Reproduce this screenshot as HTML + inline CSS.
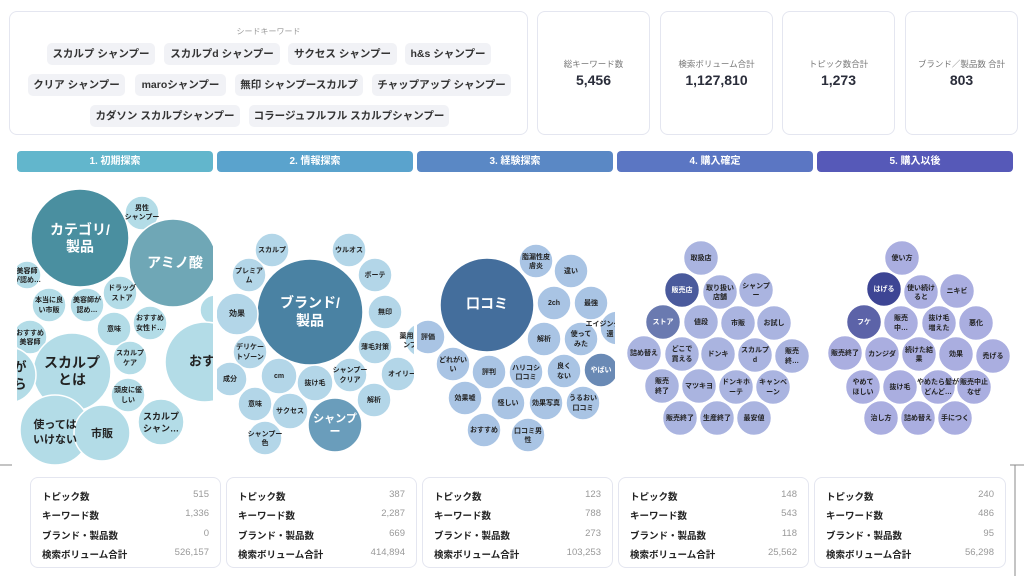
<!DOCTYPE html>
<html><head><meta charset="utf-8"><style>
*{margin:0;padding:0;box-sizing:border-box}
body{width:1024px;height:576px;background:#fff;font-family:"Liberation Sans","Noto Sans CJK JP",sans-serif;position:relative;overflow:hidden;color:#2a2d3a}
.card{position:absolute;border:1px solid #e4e6f0;border-radius:8px;background:#fff}
.seedt{position:absolute;left:0;width:100%;top:14px;text-align:center;font-size:8px;color:#999}
.chip{position:absolute;height:22px;line-height:22px;background:#f1f2f6;border-radius:5px;font-size:10.5px;font-weight:bold;text-align:center;color:#333}
.st .l{position:absolute;top:46px;width:100%;text-align:center;font-size:8.5px;color:#777}
.st .v{position:absolute;top:60px;width:100%;text-align:center;font-size:14px;font-weight:bold;color:#2a2d3a}
.bar{position:absolute;top:151px;height:21px;border-radius:4px;color:#fff;font-size:10px;font-weight:bold;text-align:center;line-height:21px}
.bc .r{position:absolute;left:11px;right:11px;font-size:9.5px;font-weight:bold;color:#222}
.bc .r span{float:right;font-weight:normal;color:#999}
svg text{font-family:"Liberation Sans","Noto Sans CJK JP",sans-serif;font-weight:bold;text-anchor:middle;dominant-baseline:middle}
</style></head><body>
<div class="card" style="left:9px;top:11px;width:519px;height:124px">
<div class="seedt">シードキーワード</div>
<div class="chip" style="left:37px;top:31px;width:108px">スカルプ シャンプー</div>
<div class="chip" style="left:154px;top:31px;width:116px">スカルプd シャンプー</div>
<div class="chip" style="left:278px;top:31px;width:109px">サクセス シャンプー</div>
<div class="chip" style="left:395px;top:31px;width:86px">h&amp;s シャンプー</div>
<div class="chip" style="left:18px;top:62px;width:97px">クリア シャンプー</div>
<div class="chip" style="left:125px;top:62px;width:91px">maroシャンプー</div>
<div class="chip" style="left:225px;top:62px;width:128px">無印 シャンプースカルプ</div>
<div class="chip" style="left:362px;top:62px;width:139px">チャップアップ シャンプー</div>
<div class="chip" style="left:80px;top:93px;width:150px">カダソン スカルプシャンプー</div>
<div class="chip" style="left:239px;top:93px;width:200px">コラージュフルフル スカルプシャンプー</div>
</div>
<div class="card st" style="left:537px;top:11px;width:113px;height:124px"><div class="l">総キーワード数</div><div class="v">5,456</div></div>
<div class="card st" style="left:660px;top:11px;width:113px;height:124px"><div class="l">検索ボリューム合計</div><div class="v">1,127,810</div></div>
<div class="card st" style="left:782px;top:11px;width:113px;height:124px"><div class="l">トピック数合計</div><div class="v">1,273</div></div>
<div class="card st" style="left:905px;top:11px;width:113px;height:124px"><div class="l">ブランド／製品数 合計</div><div class="v">803</div></div>
<div class="bar" style="left:17px;width:196px;background:#62b6cc">1. 初期探索</div>
<div class="bar" style="left:217px;width:196px;background:#5aa3cd">2. 情報探索</div>
<div class="bar" style="left:417px;width:196px;background:#5a88c5">3. 経験探索</div>
<div class="bar" style="left:617px;width:196px;background:#5b76c3">4. 購入確定</div>
<div class="bar" style="left:817px;width:196px;background:#5659b8">5. 購入以後</div>

<svg width="1024" height="576" style="position:absolute;left:0;top:0">
<defs>
<clipPath id="c1"><rect x="17" y="180" width="196" height="290"/></clipPath>
<clipPath id="c2"><rect x="217" y="180" width="197" height="290"/></clipPath>
<clipPath id="c3"><rect x="417" y="180" width="198" height="290"/></clipPath>
</defs>
<g clip-path="url(#c1)" stroke="#fff" stroke-width="1.5" fill="#b3dce7" font-size="7">
<circle cx="80" cy="238" r="49" fill="#4a8fa0"/>
<circle cx="142" cy="213" r="17"/>
<circle cx="173" cy="263" r="44" fill="#6fa7b6"/>
<circle cx="27" cy="275" r="14"/>
<circle cx="49" cy="305" r="17"/>
<circle cx="87" cy="305" r="17"/>
<circle cx="120" cy="293" r="17"/>
<circle cx="215" cy="310" r="15"/>
<circle cx="150" cy="323" r="17"/>
<circle cx="114" cy="329" r="17"/>
<circle cx="30" cy="337" r="17"/>
<circle cx="72" cy="372" r="39"/>
<circle cx="205" cy="362" r="40"/>
<circle cx="8" cy="375" r="28"/>
<circle cx="130" cy="358" r="17"/>
<circle cx="128" cy="395" r="17"/>
<circle cx="161" cy="422" r="23"/>
<circle cx="55" cy="430" r="35"/>
<circle cx="102" cy="433" r="28"/>
<g stroke="none" fill="#222">
<text x="80" y="231" font-size="14" fill="#fff">カテゴリ/</text><text x="80" y="248" font-size="14" fill="#fff">製品</text>
<text x="142" y="208">男性</text><text x="142" y="217">シャンプー</text>
<text x="175" y="264" font-size="14" fill="#fff">アミノ酸</text>
<text x="27" y="271">美容師</text><text x="27" y="280">が認め…</text>
<text x="49" y="300">本当に良</text><text x="49" y="310">い市販</text>
<text x="87" y="300">美容師が</text><text x="87" y="310">認め…</text>
<text x="122" y="288">ドラッグ</text><text x="122" y="298">ストア</text>
<text x="150" y="318">おすすめ</text><text x="150" y="328">女性ド…</text>
<text x="114" y="329">意味</text>
<text x="30" y="333">おすすめ</text><text x="30" y="342">美容師</text>
<text x="72" y="364" font-size="14">スカルプ</text><text x="72" y="381" font-size="14">とは</text>
<text x="215" y="362" font-size="13">おすすめ</text>
<text x="20" y="368" font-size="13">が</text><text x="20" y="385" font-size="13">ら</text>
<text x="130" y="353">スカルプ</text><text x="130" y="363">ケア</text>
<text x="128" y="390">頭皮に優</text><text x="128" y="400">しい</text>
<text x="161" y="417" font-size="9">スカルプ</text><text x="161" y="429" font-size="9">シャン…</text>
<text x="55" y="425" font-size="11">使っては</text><text x="55" y="440" font-size="11">いけない</text>
<text x="102" y="434" font-size="11">市販</text>
</g></g>
<g clip-path="url(#c2)" stroke="#fff" stroke-width="1.5" fill="#b3d6e8" font-size="7">
<circle cx="310" cy="312" r="53" fill="#4a82a3"/>
<circle cx="272" cy="250" r="17"/><circle cx="349" cy="250" r="17"/>
<circle cx="249" cy="275" r="17"/><circle cx="375" cy="275" r="17"/>
<circle cx="237" cy="314" r="21"/><circle cx="385" cy="312" r="17"/>
<circle cx="422" cy="340" r="17"/><circle cx="250" cy="352" r="17"/>
<circle cx="375" cy="347" r="17"/><circle cx="230" cy="379" r="17"/>
<circle cx="279" cy="376" r="18"/><circle cx="315" cy="383" r="18"/>
<circle cx="350" cy="375" r="17"/><circle cx="398" cy="374" r="17"/>
<circle cx="374" cy="400" r="17"/><circle cx="255" cy="404" r="17"/>
<circle cx="290" cy="411" r="18"/><circle cx="335" cy="425" r="27" fill="#6a9dbb"/>
<circle cx="265" cy="438" r="17"/>
<g stroke="none" fill="#222">
<text x="310" y="304" font-size="14" fill="#fff">ブランド/</text><text x="310" y="322" font-size="14" fill="#fff">製品</text>
<text x="272" y="250">スカルプ</text><text x="349" y="250">ウルオス</text>
<text x="249" y="271">プレミア</text><text x="249" y="280">ム</text><text x="375" y="275">ボーテ</text>
<text x="237" y="314" font-size="8">効果</text><text x="385" y="312">無印</text>
<text x="410" y="336">薬用シ</text><text x="410" y="345">ンプ</text>
<text x="250" y="347">デリケー</text><text x="250" y="357">トゾーン</text>
<text x="375" y="347">薄毛対策</text><text x="230" y="379">成分</text>
<text x="279" y="376">cm</text><text x="315" y="383">抜け毛</text>
<text x="350" y="370">シャンプー</text><text x="350" y="380">クリア</text>
<text x="402" y="374">オイリー</text><text x="374" y="400">解析</text>
<text x="255" y="404">意味</text><text x="290" y="411">サクセス</text>
<text x="335" y="419" font-size="11" fill="#fff">シャンプ</text><text x="335" y="432" font-size="11" fill="#fff">ー</text>
<text x="265" y="434">シャンプー</text><text x="265" y="443">色</text>
</g></g>
<g clip-path="url(#c3)" stroke="#fff" stroke-width="1.5" fill="#a9c4e4" font-size="7">
<circle cx="487" cy="305" r="47" fill="#446e9c"/>
<circle cx="536" cy="261" r="17"/><circle cx="571" cy="271" r="17"/>
<circle cx="554" cy="303" r="17"/><circle cx="591" cy="303" r="17"/>
<circle cx="428" cy="337" r="17"/><circle cx="544" cy="339" r="17"/>
<circle cx="581" cy="339" r="17"/><circle cx="617" cy="328" r="17"/>
<circle cx="453" cy="364" r="17"/><circle cx="489" cy="372" r="17"/>
<circle cx="526" cy="372" r="17"/><circle cx="564" cy="371" r="17"/>
<circle cx="601" cy="370" r="17" fill="#6a8ab5"/>
<circle cx="465" cy="398" r="17"/><circle cx="508" cy="403" r="17"/>
<circle cx="546" cy="403" r="17"/><circle cx="583" cy="403" r="17"/>
<circle cx="484" cy="430" r="17"/><circle cx="528" cy="435" r="17"/>
<g stroke="none" fill="#222">
<text x="487" y="305" font-size="14" fill="#fff">口コミ</text>
<text x="536" y="257">脂漏性皮</text><text x="536" y="266">膚炎</text>
<text x="571" y="271">違い</text><text x="554" y="303">2ch</text><text x="591" y="303">最強</text>
<text x="428" y="337">評価</text><text x="544" y="339">解析</text>
<text x="581" y="334">使って</text><text x="581" y="344">みた</text>
<text x="603" y="324">エイジング</text><text x="610" y="334">還</text>
<text x="453" y="360">どれがい</text><text x="453" y="369">い</text>
<text x="489" y="372">評判</text>
<text x="526" y="368">ハリコシ</text><text x="526" y="377">口コミ</text>
<text x="564" y="366">良く</text><text x="564" y="376">ない</text>
<text x="601" y="370" fill="#fff">やばい</text>
<text x="465" y="398">効果嘘</text><text x="508" y="403">怪しい</text>
<text x="546" y="403">効果写真</text>
<text x="583" y="398">うるおい</text><text x="583" y="408">口コミ</text>
<text x="484" y="430">おすすめ</text>
<text x="528" y="431">口コミ男</text><text x="528" y="440">性</text>
</g></g>
<g stroke="#fff" stroke-width="1.5" fill="#aab4e0" font-size="7">
<circle cx="701" cy="258" r="17.5"/><circle cx="682" cy="290" r="17.5" fill="#4a5a9c"/>
<circle cx="720" cy="292" r="17.5"/><circle cx="756" cy="290" r="17.5"/>
<circle cx="663" cy="322" r="17.5" fill="#6a7ab0"/><circle cx="701" cy="322" r="17.5"/>
<circle cx="738" cy="323" r="17.5"/><circle cx="774" cy="323" r="17.5"/>
<circle cx="644" cy="353" r="17.5"/><circle cx="682" cy="354" r="17.5"/>
<circle cx="718" cy="354" r="17.5"/><circle cx="755" cy="355" r="17.5"/>
<circle cx="792" cy="356" r="17.5"/><circle cx="662" cy="386" r="17.5"/>
<circle cx="699" cy="386" r="17.5"/><circle cx="736" cy="387" r="17.5"/>
<circle cx="773" cy="387" r="17.5"/><circle cx="680" cy="418" r="17.5"/>
<circle cx="717" cy="418" r="17.5"/><circle cx="754" cy="418" r="17.5"/>
<g stroke="none" fill="#222">
<text x="701" y="258">取扱店</text><text x="682" y="290" fill="#fff">販売店</text>
<text x="720" y="288">取り扱い</text><text x="720" y="297">店舗</text>
<text x="756" y="286">シャンプ</text><text x="756" y="295">ー</text>
<text x="663" y="322" fill="#fff">ストア</text><text x="701" y="322">値段</text>
<text x="738" y="323">市販</text><text x="774" y="323">お試し</text>
<text x="644" y="353">詰め替え</text>
<text x="682" y="349">どこで</text><text x="682" y="359">買える</text>
<text x="718" y="354">ドンキ</text>
<text x="755" y="350">スカルプ</text><text x="755" y="360">d</text>
<text x="792" y="351">販売</text><text x="792" y="361">終…</text>
<text x="662" y="381">販売</text><text x="662" y="391">終了</text>
<text x="699" y="386">マツキヨ</text>
<text x="736" y="382">ドンキホ</text><text x="736" y="392">ーテ</text>
<text x="773" y="382">キャンペ</text><text x="773" y="392">ーン</text>
<text x="680" y="418">販売終了</text><text x="717" y="418">生産終了</text><text x="754" y="418">最安値</text>
</g></g>
<g stroke="#fff" stroke-width="1.5" fill="#aaaee0" font-size="7">
<circle cx="902" cy="258" r="17.5"/><circle cx="884" cy="289" r="17.5" fill="#3d4594"/>
<circle cx="921" cy="292" r="17.5"/><circle cx="957" cy="291" r="17.5"/>
<circle cx="864" cy="322" r="17.5" fill="#5c63a8"/><circle cx="901" cy="323" r="17.5"/>
<circle cx="939" cy="323" r="17.5"/><circle cx="976" cy="323" r="17.5"/>
<circle cx="845" cy="353" r="17.5"/><circle cx="882" cy="354" r="17.5"/>
<circle cx="919" cy="354" r="17.5"/><circle cx="956" cy="354" r="17.5"/>
<circle cx="993" cy="356" r="17.5"/><circle cx="863" cy="387" r="17.5"/>
<circle cx="900" cy="387" r="17.5"/><circle cx="938" cy="387" r="17.5"/>
<circle cx="974" cy="387" r="17.5"/><circle cx="881" cy="418" r="17.5"/>
<circle cx="918" cy="418" r="17.5"/><circle cx="955" cy="418" r="17.5"/>
<g stroke="none" fill="#222">
<text x="902" y="258">使い方</text><text x="884" y="289" fill="#fff">はげる</text>
<text x="921" y="288">使い続け</text><text x="921" y="297">ると</text>
<text x="957" y="291">ニキビ</text><text x="864" y="322" fill="#fff">フケ</text>
<text x="901" y="318">販売</text><text x="901" y="328">中…</text>
<text x="939" y="318">抜け毛</text><text x="939" y="328">増えた</text>
<text x="976" y="323">悪化</text><text x="845" y="353">販売終了</text>
<text x="882" y="354">カンジダ</text>
<text x="919" y="350">続けた結</text><text x="919" y="359">果</text>
<text x="956" y="354">効果</text><text x="993" y="356">禿げる</text>
<text x="863" y="382">やめて</text><text x="863" y="392">ほしい</text>
<text x="900" y="387">抜け毛</text>
<text x="938" y="382">やめたら髪が</text><text x="938" y="392">どんど…</text>
<text x="974" y="382">販売中止</text><text x="974" y="392">なぜ</text>
<text x="881" y="418">治し方</text><text x="918" y="418">詰め替え</text><text x="955" y="418">手につく</text>
</g></g>
<g stroke="#888" stroke-width="1"><line x1="0" y1="465" x2="12" y2="465"/><line x1="1010" y1="465" x2="1024" y2="465"/><line x1="1015" y1="465" x2="1015" y2="576"/></g>
</svg>

<div class="card bc" style="left:30px;top:477px;width:191px;height:91px"><div class="r" style="top:11px">トピック数<span>515</span></div><div class="r" style="top:30px">キーワード数<span>1,336</span></div><div class="r" style="top:50px">ブランド・製品数<span>0</span></div><div class="r" style="top:69px">検索ボリューム合計<span>526,157</span></div></div>
<div class="card bc" style="left:226px;top:477px;width:191px;height:91px"><div class="r" style="top:11px">トピック数<span>387</span></div><div class="r" style="top:30px">キーワード数<span>2,287</span></div><div class="r" style="top:50px">ブランド・製品数<span>669</span></div><div class="r" style="top:69px">検索ボリューム合計<span>414,894</span></div></div>
<div class="card bc" style="left:422px;top:477px;width:191px;height:91px"><div class="r" style="top:11px">トピック数<span>123</span></div><div class="r" style="top:30px">キーワード数<span>788</span></div><div class="r" style="top:50px">ブランド・製品数<span>273</span></div><div class="r" style="top:69px">検索ボリューム合計<span>103,253</span></div></div>
<div class="card bc" style="left:618px;top:477px;width:191px;height:91px"><div class="r" style="top:11px">トピック数<span>148</span></div><div class="r" style="top:30px">キーワード数<span>543</span></div><div class="r" style="top:50px">ブランド・製品数<span>118</span></div><div class="r" style="top:69px">検索ボリューム合計<span>25,562</span></div></div>
<div class="card bc" style="left:814px;top:477px;width:192px;height:91px"><div class="r" style="top:11px">トピック数<span>240</span></div><div class="r" style="top:30px">キーワード数<span>486</span></div><div class="r" style="top:50px">ブランド・製品数<span>95</span></div><div class="r" style="top:69px">検索ボリューム合計<span>56,298</span></div></div>
</body></html>
